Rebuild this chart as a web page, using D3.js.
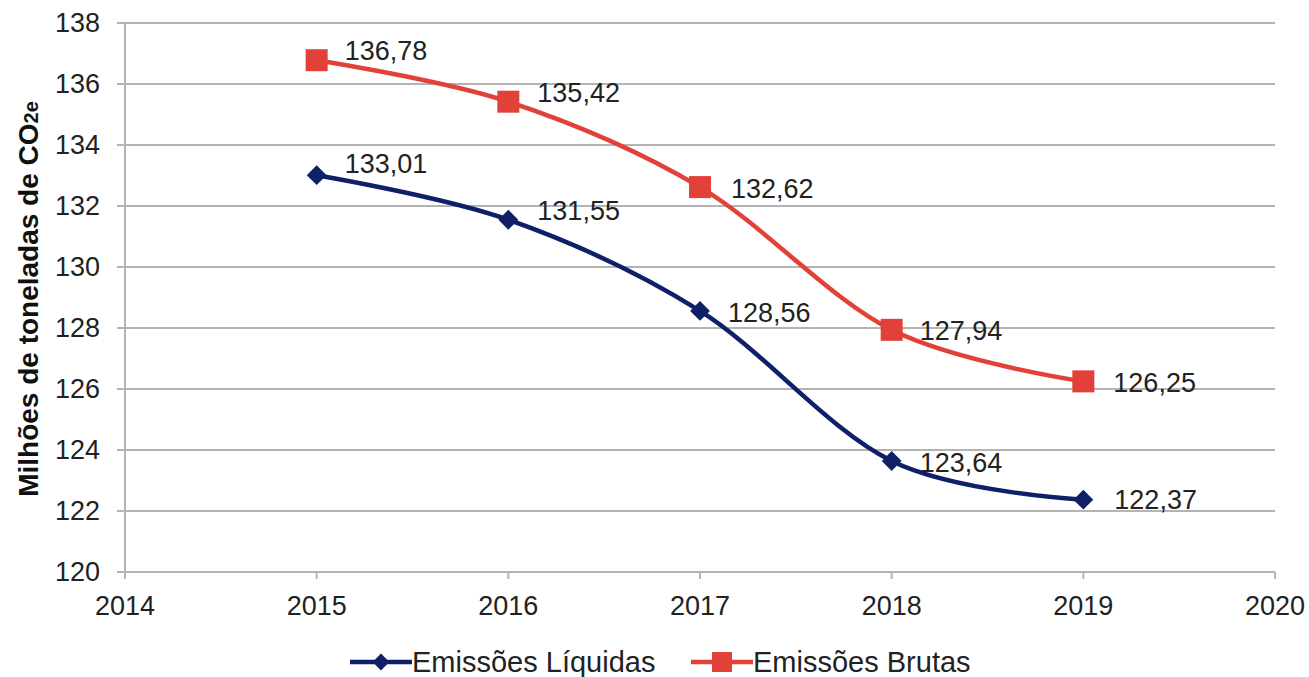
<!DOCTYPE html>
<html><head><meta charset="utf-8">
<script src="https://cdn.jsdelivr.net/npm/d3@7"></script>
<style>body{margin:0;background:#fff;} text{font-family:"Liberation Sans",Arial,sans-serif;}</style>
</head><body><svg id="c" width="1309" height="677"></svg>
<script>
const years = [2015, 2016, 2017, 2018, 2019];
const liquidas = [133.01, 131.55, 128.56, 123.64, 122.37];
const brutas = [136.78, 135.42, 132.62, 127.94, 126.25];
const xTicks = [2014, 2015, 2016, 2017, 2018, 2019, 2020];
const yTicks = [120, 122, 124, 126, 128, 130, 132, 134, 136, 138];
const seriesNames = ["Emissões Líquidas", "Emissões Brutas"];

const svg = d3.select("#c");
const x = d3.scaleLinear().domain([2014, 2020]).range([125, 1275]);
const y = d3.scaleLinear().domain([120, 138]).range([572, 23]);
const fmt = v => v.toFixed(2).replace(".", ",");

// gridlines
svg.append("g").selectAll("line").data(yTicks).join("line")
  .attr("x1", 117).attr("x2", 1275).attr("y1", d => y(d)).attr("y2", d => y(d))
  .attr("stroke", "#b4b4b4").attr("stroke-width", 2);
// y axis line
svg.append("line").attr("x1", 125).attr("x2", 125).attr("y1", 23).attr("y2", 579)
  .attr("stroke", "#b4b4b4").attr("stroke-width", 2);
// x ticks
svg.append("g").selectAll("line").data(xTicks).join("line")
  .attr("x1", d => x(d)).attr("x2", d => x(d)).attr("y1", 572).attr("y2", 579)
  .attr("stroke", "#b4b4b4").attr("stroke-width", 2);
// y tick labels
svg.append("g").selectAll("text").data(yTicks).join("text")
  .attr("x", 100).attr("y", d => y(d)).attr("dy", "0.35em").attr("text-anchor", "end")
  .attr("font-size", 27).attr("fill", "#222").text(d => d);
// x tick labels
svg.append("g").selectAll("text").data(xTicks).join("text")
  .attr("x", d => x(d)).attr("y", 615).attr("text-anchor", "middle")
  .attr("font-size", 27).attr("fill", "#222").text(d => d);
// y axis title
const yt = svg.append("text").attr("transform", "translate(38,299) rotate(-90)")
  .attr("text-anchor", "middle").attr("font-size", 28).attr("font-weight", "bold").attr("fill", "#111");
yt.append("tspan").text("Milhões de toneladas de CO");
yt.append("tspan").attr("font-size", 20).text("2e");

const line = d3.line().x((d, i) => x(years[i])).y(d => y(d)).curve(d3.curveCatmullRom.alpha(0));
const navy = "#0f1f68", red = "#e2413a";

svg.append("path").datum(brutas).attr("d", line).attr("fill", "none").attr("stroke", red).attr("stroke-width", 4.5);
svg.append("path").datum(liquidas).attr("d", line).attr("fill", "none").attr("stroke", navy).attr("stroke-width", 4.5);

const diamond = d3.symbol().type(d3.symbolDiamond2).size(250);
svg.append("g").selectAll("path").data(liquidas).join("path")
  .attr("transform", (d, i) => `translate(${x(years[i])},${y(d)})`).attr("d", diamond).attr("fill", navy);
svg.append("g").selectAll("rect").data(brutas).join("rect")
  .attr("x", (d, i) => x(years[i]) - 11).attr("y", d => y(d) - 11).attr("width", 22).attr("height", 22).attr("fill", red);

const labelOffsetsL = [[28, -12], [29, -9], [28, 2], [28, 2], [31, 0]];
const labelOffsetsB = [[28, -10], [29, -9], [31, 1], [28, 1], [30, 1]];
svg.append("g").selectAll("text").data(liquidas).join("text")
  .attr("x", (d, i) => x(years[i]) + labelOffsetsL[i][0]).attr("y", (d, i) => y(d) + labelOffsetsL[i][1])
  .attr("dy", "0.35em").attr("font-size", 27).attr("fill", "#222").text(fmt);
svg.append("g").selectAll("text").data(brutas).join("text")
  .attr("x", (d, i) => x(years[i]) + labelOffsetsB[i][0]).attr("y", (d, i) => y(d) + labelOffsetsB[i][1])
  .attr("dy", "0.35em").attr("font-size", 27).attr("fill", "#222").text(fmt);

// legend
const lg = svg.append("g");
const legendDiamond = d3.symbol().type(d3.symbolDiamond2).size(180);
const legendItems = [{name: seriesNames[0], color: navy, x: 350, type: "d"}, {name: seriesNames[1], color: red, x: 691, type: "s"}];
legendItems.forEach(it => {
  lg.append("line").attr("x1", it.x).attr("x2", it.x + 62).attr("y1", 662).attr("y2", 662).attr("stroke", it.color).attr("stroke-width", 4.5);
  if (it.type === "d") lg.append("path").attr("transform", `translate(${it.x + 31},662)`).attr("d", legendDiamond).attr("fill", it.color);
  else lg.append("rect").attr("x", it.x + 21).attr("y", 652).attr("width", 20).attr("height", 20).attr("fill", it.color);
  lg.append("text").attr("x", it.x + 62).attr("y", 662).attr("dy", "0.35em").attr("font-size", 29).attr("fill", "#222").text(it.name);
});
</script></body></html>
